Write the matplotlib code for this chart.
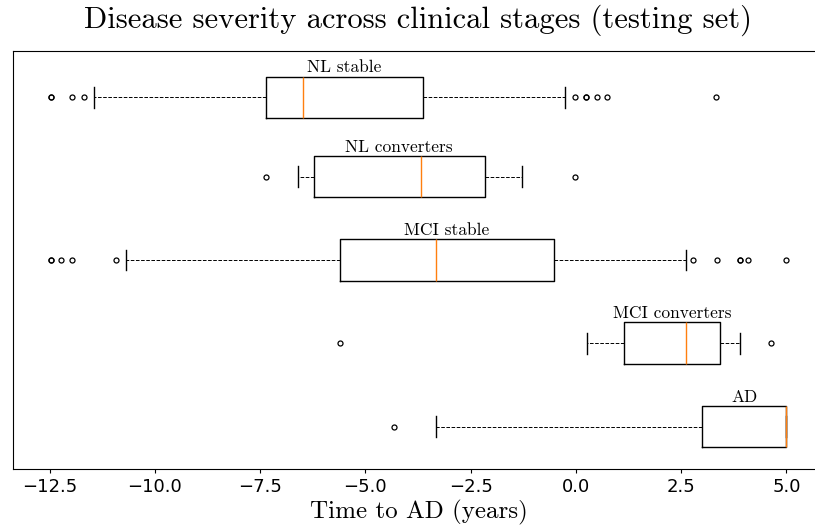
import matplotlib
matplotlib.use("Agg")
import matplotlib.pyplot as plt

# ---- data (years to AD) ----
groups = ["AD", "MCI converters", "MCI stable", "NL converters", "NL stable"]
positions = [1, 2, 3, 4, 4.95]
q1 = [3.00, 1.15, -5.60, -6.23, -7.36]
med = [5.00, 2.62, -3.32, -3.69, -6.49]
q3 = [5.00, 3.42, -0.52, -2.16, -3.63]
whislo = [-3.32, 0.26, -10.68, -6.61, -11.44]
whishi = [5.00, 3.89, 2.62, -1.28, -0.27]
fliers = [
    [-4.32],
    [-5.60, 4.64],
    [-12.46, -12.46, -12.22, -11.96, -10.92, 2.79, 3.36, 3.90, 3.90, 4.08, 4.99],
    [-7.36, -0.01],
    [-12.46, -12.46, -11.96, -11.68, -0.01, 0.25, 0.25, 0.51, 0.75, 3.33],
]

stats = []
for i, g in enumerate(groups):
    stats.append(dict(label=g, q1=q1[i], med=med[i], q3=q3[i],
                      whislo=whislo[i], whishi=whishi[i], fliers=fliers[i]))

serif = "cmr10"

fig = plt.figure(figsize=(8.15, 5.29), dpi=100)
ax = fig.add_axes([13.3 / 815, (529 - 468.5) / 529, 810.2 / 815, (468.5 - 51) / 529])

ax.bxp(stats, positions=positions, widths=0.5, vert=False,
       boxprops=dict(color="black", linewidth=1.0),
       whiskerprops=dict(color="black", linewidth=0.7, linestyle="--"),
       capprops=dict(color="black", linewidth=1.0),
       medianprops=dict(color="#ff7f0e", linewidth=1.0),
       flierprops=dict(marker="o", markersize=3.6, markerfacecolor="none",
                       markeredgecolor="black", markeredgewidth=0.9))

for i, g in enumerate(groups):
    cx = (q1[i] + q3[i]) / 2
    ax.text(cx, positions[i] + 0.25 + 0.05, g, ha="center", va="baseline",
            fontsize=12.5, family=serif)

ax.set_xlim(-13.36, 5.88)
ax.set_ylim(0.498, 5.507)
ax.set_yticks([])
ax.set_xticks([-12.5, -10.0, -7.5, -5.0, -2.5, 0.0, 2.5, 5.0])
ax.tick_params(axis="x", labelsize=13, length=3, pad=4)
ax.set_xlabel("Time to AD (years)", family=serif, fontsize=18, labelpad=3)
ax.set_title("Disease severity across clinical stages (testing set)",
             family=serif, fontsize=22, pad=17)

fig.savefig("out.png", dpi=100)
